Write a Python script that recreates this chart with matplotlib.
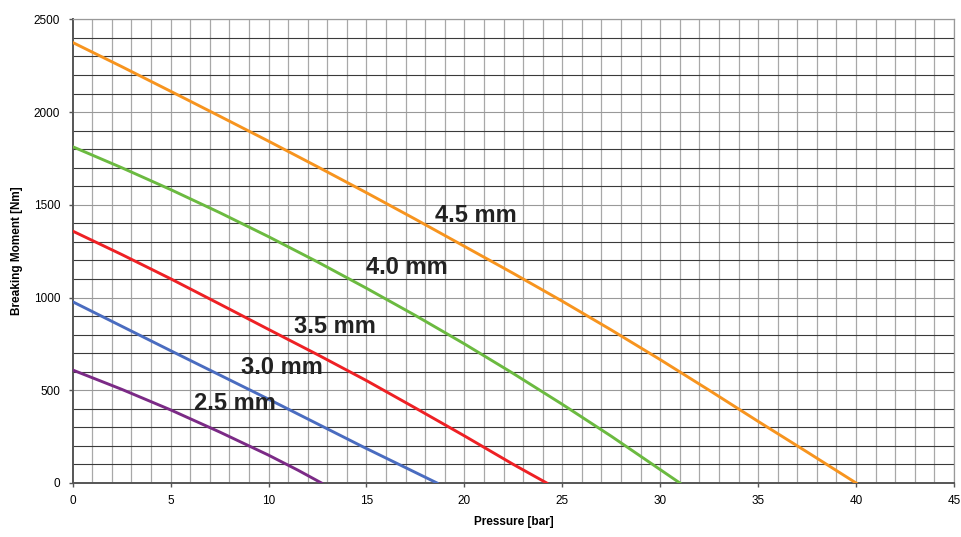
import matplotlib.pyplot as plt
from matplotlib.ticker import MultipleLocator

plt.rcParams['font.family'] = ['Liberation Sans', 'DejaVu Sans']

# Values (pressure in bar, moment in Nm)
p_25 = [0, 2.5, 5, 7.5, 10, 11.5, 12.7]
m_25 = [609, 505, 394, 275, 150, 69, 0]

p_30 = [0, 5.1, 9.9, 14.8, 18.6]
m_30 = [977, 708, 457, 196, 0]

p_35 = [0, 2.5, 5, 7.5, 10, 12.5, 15, 17.5, 20, 22.5, 24.2]
m_35 = [1358, 1232, 1101, 965, 828, 692, 552, 404, 254, 100, 0]

p_40 = [0, 2.5, 5, 7.5, 10, 12.5, 15, 17.5, 20, 22.5, 25, 27.5, 30, 31.0]
m_40 = [1813, 1700, 1582, 1458, 1328, 1192, 1050, 903, 750, 590, 424, 252, 72, 0]

p_45 = [0, 2.5, 5, 7.5, 10, 12.5, 15, 17.5, 20, 22.5, 25, 27.5, 30, 32.5, 35, 37.5, 40]
m_45 = [2375, 2245, 2112, 1978, 1843, 1705, 1565, 1422, 1276, 1130, 980, 825,
        665, 500, 332, 167, 0]

labels = ["2.5 mm", "3.0 mm", "3.5 mm", "4.0 mm", "4.5 mm"]
label_x = [6.2, 8.6, 11.3, 15.0, 18.5]
label_y = [426, 620, 846, 1164, 1440]

colors = ["#7B2A86", "#4A6CC0", "#EE2024", "#6BBA40", "#F7941E"]

fig = plt.figure(figsize=(9.61, 5.37), dpi=100)
ax = fig.add_axes([0.0757, 0.1006, 0.9170, 0.8634])

# grid: every 1 bar and every 100 Nm
for x in range(1, 46):
    ax.axvline(x, color="#a8a8a8", lw=0.9, zorder=1)
for y in range(100, 2600, 100):
    c = "#999999" if y % 500 == 0 else "#3a3a3a"
    ax.axhline(y, color=c, lw=0.8, zorder=1)

series = [(p_25, m_25), (p_30, m_30), (p_35, m_35), (p_40, m_40), (p_45, m_45)]
for (p, m), col in zip(series, colors):
    ax.plot(p, m, color=col, lw=2.1, zorder=3, solid_joinstyle="round")

for t, x, y in zip(labels, label_x, label_y):
    ax.text(x, y, t, fontsize=17, fontweight="bold", color="#222222",
            ha="left", va="center", zorder=4)

ax.set_xlim(0, 45)
ax.set_ylim(0, 2500)
ax.xaxis.set_major_locator(MultipleLocator(5))
ax.yaxis.set_major_locator(MultipleLocator(500))
ax.tick_params(labelsize=8.5, length=3, width=1, color="#555555", pad=6)

for s in ["left", "bottom"]:
    ax.spines[s].set_color("#555555")
    ax.spines[s].set_linewidth(1.4)
for s in ["top", "right"]:
    ax.spines[s].set_color("#999999")
    ax.spines[s].set_linewidth(0.9)

ax.set_xlabel("Pressure [bar]", fontsize=8.5, fontweight="bold", labelpad=6)
ax.set_ylabel("Breaking Moment [Nm]", fontsize=8.5, fontweight="bold", labelpad=8)

fig.savefig("out.png", dpi=100)
